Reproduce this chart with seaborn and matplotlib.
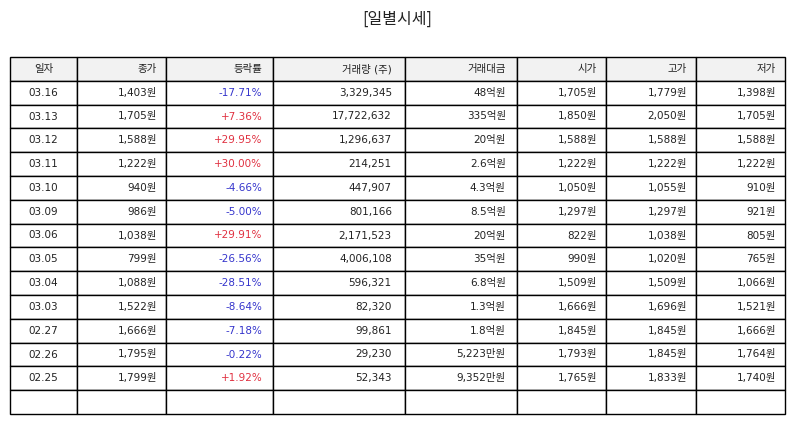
import matplotlib.pyplot as plt
import seaborn as sns

sns.set_theme(style='white')
plt.rcParams['font.family'] = ['DejaVu Sans', 'Noto Sans CJK KR']

columns = ["일자", "종가", "등락률", "거래량 (주)", "거래대금", "시가", "고가", "저가"]
dates = ["03.16", "03.13", "03.12", "03.11", "03.10", "03.09", "03.06",
         "03.05", "03.04", "03.03", "02.27", "02.26", "02.25"]
close = ["1,403원", "1,705원", "1,588원", "1,222원", "940원", "986원", "1,038원",
         "799원", "1,088원", "1,522원", "1,666원", "1,795원", "1,799원"]
change = ["-17.71%", "+7.36%", "+29.95%", "+30.00%", "-4.66%", "-5.00%", "+29.91%",
          "-26.56%", "-28.51%", "-8.64%", "-7.18%", "-0.22%", "+1.92%"]
volume = ["3,329,345", "17,722,632", "1,296,637", "214,251", "447,907", "801,166",
          "2,171,523", "4,006,108", "596,321", "82,320", "99,861", "29,230", "52,343"]
amount = ["48억원", "335억원", "20억원", "2.6억원", "4.3억원", "8.5억원", "20억원",
          "35억원", "6.8억원", "1.3억원", "1.8억원", "5,223만원", "9,352만원"]
open_ = ["1,705원", "1,850원", "1,588원", "1,222원", "1,050원", "1,297원", "822원",
         "990원", "1,509원", "1,666원", "1,845원", "1,793원", "1,765원"]
high = ["1,779원", "2,050원", "1,588원", "1,222원", "1,055원", "1,297원", "1,038원",
        "1,020원", "1,509원", "1,696원", "1,845원", "1,845원", "1,833원"]
low = ["1,398원", "1,705원", "1,588원", "1,222원", "910원", "921원", "805원",
       "765원", "1,066원", "1,521원", "1,666원", "1,764원", "1,740원"]

col_widths = [67, 89, 107, 132, 112, 89, 90, 89]

rows = [list(r) for r in zip(dates, close, change, volume, amount, open_, high, low)]
rows.append([""] * len(columns))

fig = plt.figure(figsize=(7.94, 4.25), dpi=100)
ax = fig.add_axes([10 / 794, 11 / 425, 775 / 794, 357 / 425])
ax.axis('off')

total = sum(col_widths)
tbl = ax.table(cellText=rows, colLabels=columns,
               colWidths=[w / total for w in col_widths],
               bbox=[0, 0, 1, 1])
tbl.auto_set_font_size(False)
tbl.set_fontsize(7.5)

for (r, c), cell in tbl.get_celld().items():
    cell.set_edgecolor('black')
    cell.set_linewidth(1.0)
    cell._loc = 'center' if c == 0 else 'right'
    cell.get_text().set_horizontalalignment('center' if c == 0 else 'right')
    cell.get_text().set_color('#222222')
    if r == 0:
        cell.set_facecolor('#f2f2f2')
    elif c == 2 and rows[r - 1][2]:
        txt = rows[r - 1][2]
        cell.get_text().set_color('#e03040' if txt.startswith('+') else '#3535cc')

fig.text(0.5, 1 - 19 / 425, "[일별시세]", ha='center', va='center', fontsize=11.5,
         family=['Noto Sans CJK KR', 'DejaVu Sans'], color='#222222')
fig.savefig("out.png", dpi=100)
